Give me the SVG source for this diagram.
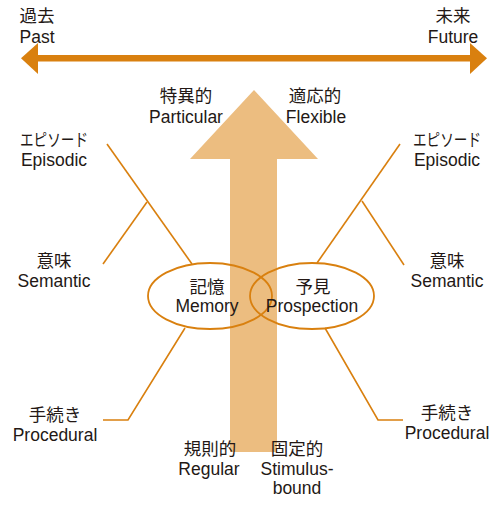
<svg xmlns="http://www.w3.org/2000/svg" width="500" height="506" viewBox="0 0 500 506">
<style>
text{font-family:"Liberation Sans","Noto Sans CJK JP",sans-serif;font-size:17.5px;fill:#231815;text-anchor:middle}
.ln{fill:none;stroke:#d9800f;stroke-width:1.6}
.el{fill:none;stroke:#d9800f;stroke-width:1.8}
</style>
<rect width="500" height="506" fill="#fff"/>
<g id="timeline">
<rect x="36" y="55" width="436" height="6.5" fill="#d9800f"/>
<polygon points="21,58.2 38,43 38,74" fill="#d9800f"/>
<polygon points="487,58.2 470,43 470,74" fill="#d9800f"/>
</g>
<g id="big-arrow">
<polygon points="254,90 318,159 277,159 277,452 230,452 230,159 190,159" fill="#ecbd80"/>
</g>
<g id="connectors">
<polyline class="ln" points="107,144 192,264"/>
<polyline class="ln" points="147,202 103,264"/>
<polyline class="ln" points="400,144 317,263"/>
<polyline class="ln" points="362,201 404,265"/>
<polyline class="ln" points="185,328 128,420 103,420"/>
<polyline class="ln" points="325,328 378,420 403,420"/>
</g>
<g id="memory">
<ellipse class="el" cx="210" cy="296" rx="62" ry="33"/>
<text x="207" y="293">記憶</text>
<text x="207" y="312">Memory</text>
</g>
<g id="prospection">
<ellipse class="el" cx="312" cy="296" rx="62" ry="33"/>
<text x="313" y="293">予見</text>
<text x="312" y="312">Prospection</text>
</g>
<g id="past"><text x="37" y="22">過去</text><text x="37" y="43">Past</text></g>
<g id="future"><text x="453" y="22">未来</text><text x="453" y="43">Future</text></g>
<g id="particular"><text x="186" y="102">特異的</text><text x="186" y="123">Particular</text></g>
<g id="flexible"><text x="315" y="102">適応的</text><text x="316" y="123">Flexible</text></g>
<g id="episodic-l"><text x="54" y="146" textLength="68" lengthAdjust="spacingAndGlyphs">エピソード</text><text x="54" y="166">Episodic</text></g>
<g id="semantic-l"><text x="54" y="267">意味</text><text x="54" y="287">Semantic</text></g>
<g id="procedural-l"><text x="55" y="421">手続き</text><text x="55" y="441">Procedural</text></g>
<g id="episodic-r"><text x="447" y="146" textLength="68" lengthAdjust="spacingAndGlyphs">エピソード</text><text x="447" y="166">Episodic</text></g>
<g id="semantic-r"><text x="447" y="267">意味</text><text x="447" y="287">Semantic</text></g>
<g id="procedural-r"><text x="447" y="419">手続き</text><text x="447" y="439">Procedural</text></g>
<g id="regular"><text x="210" y="455">規則的</text><text x="209" y="475">Regular</text></g>
<g id="stimulus"><text x="297" y="455">固定的</text><text x="297" y="475">Stimulus-</text><text x="297" y="494">bound</text></g>
</svg>
